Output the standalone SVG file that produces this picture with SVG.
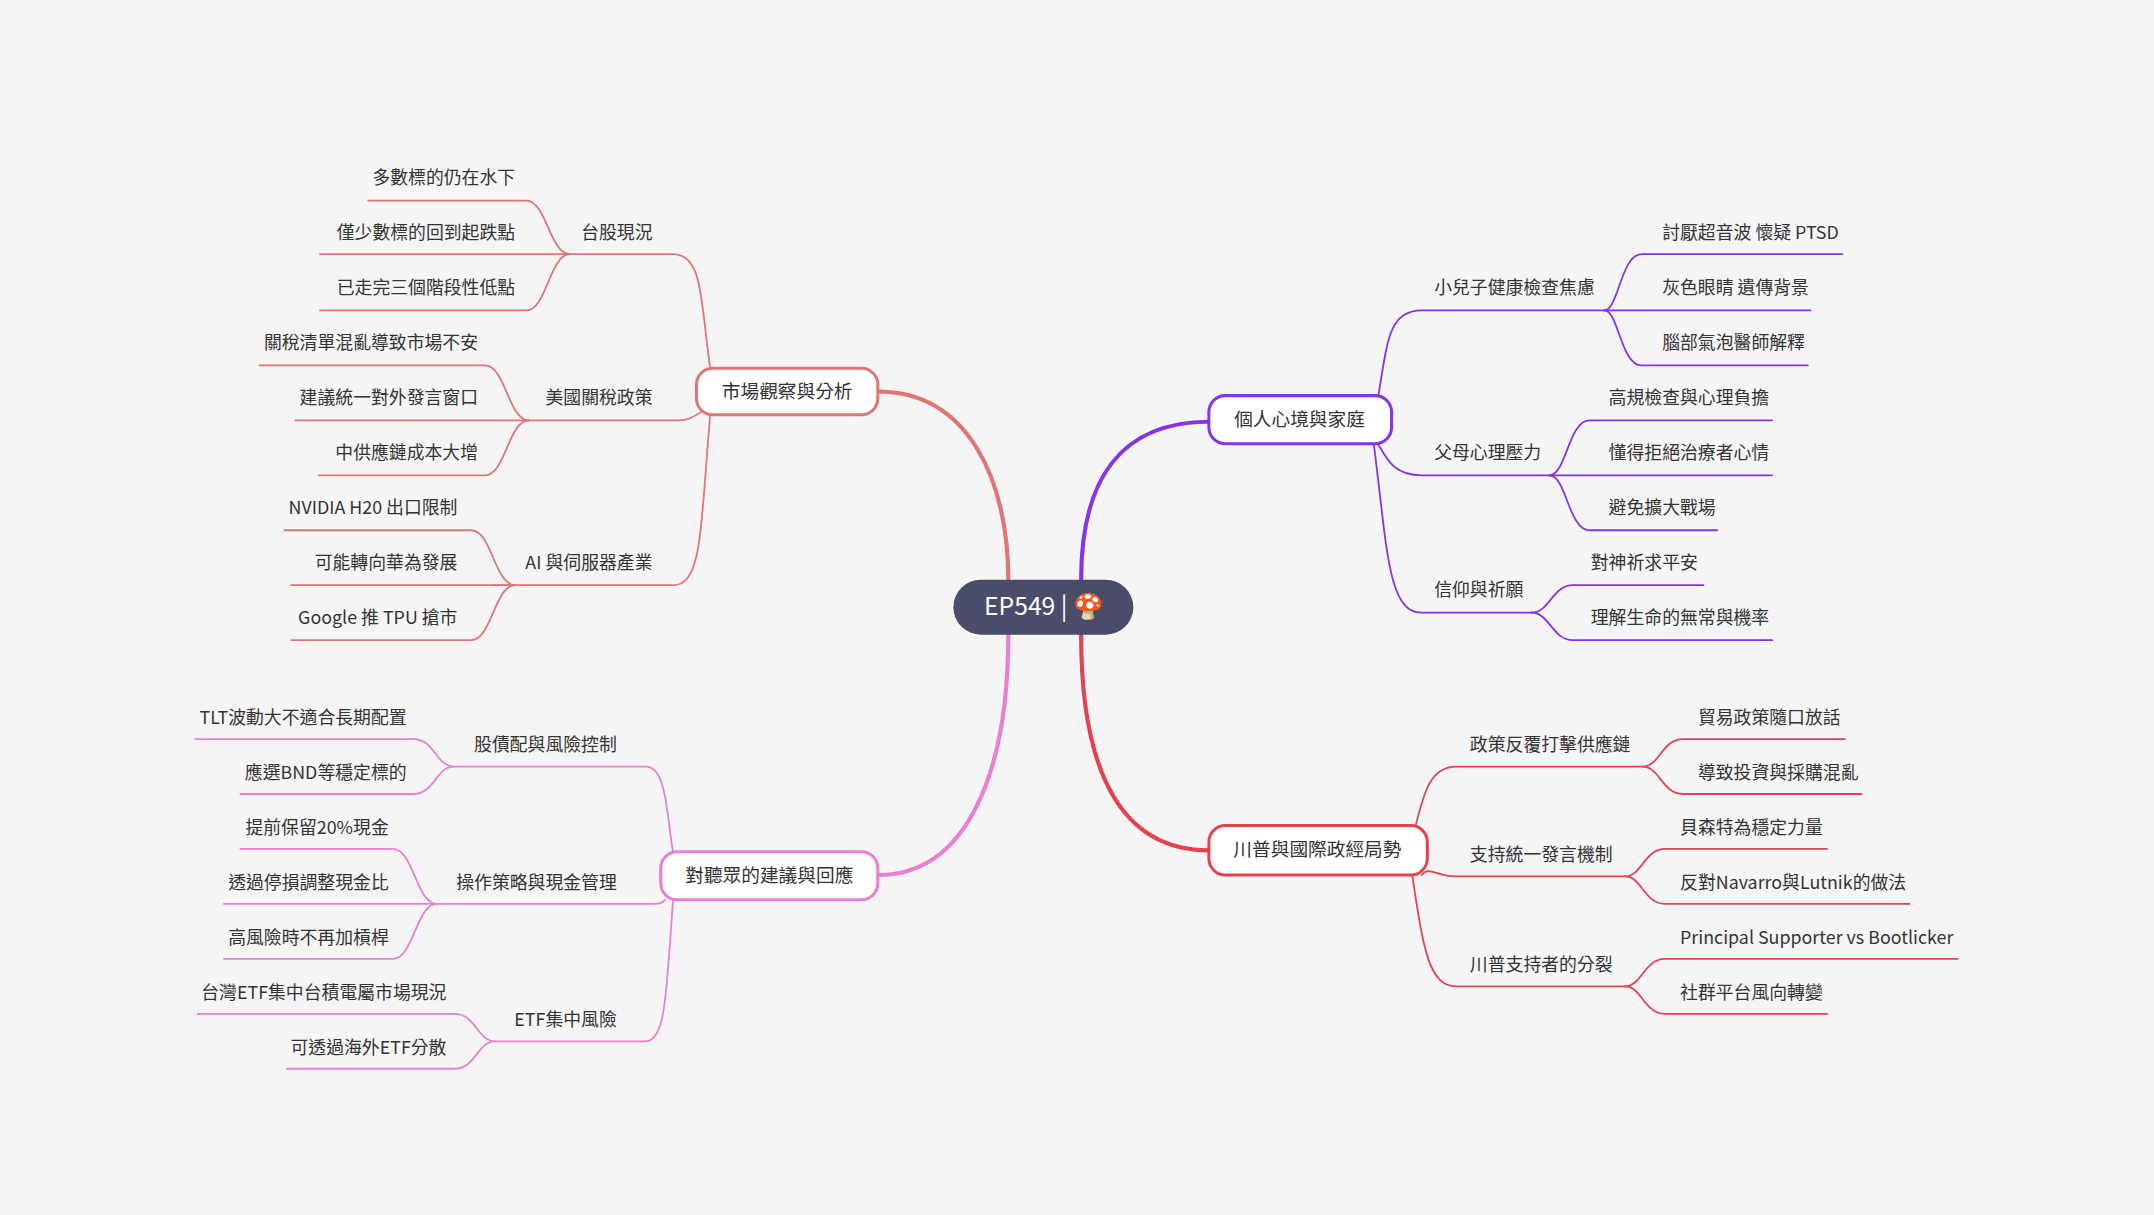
<svg xmlns="http://www.w3.org/2000/svg" width="2154" height="1215" viewBox="0 0 2154 1215">
<style>
text{font-family:"Noto Sans CJK TC","Noto Sans",sans-serif;font-size:13px;fill:#333}
.l{text-anchor:end}
.m{font-size:13.6px;text-anchor:middle}
.c{fill:none;stroke-linecap:round}
.p{stroke:#8533ec}.r{stroke:#e5414f}.s{stroke:#e07573}.k{stroke:#e97fd0}
.w{stroke-width:1.3}
.n{fill:#fff;stroke-width:2.2}
</style>
<rect width="2154" height="1215" fill="#f5f5f5"/>
<g transform="scale(1.37372)">
<g id="connectors">
<path class="c p" stroke-width="3" d="M787 422C787 350 815 307 880 307"/>
<path class="c r" stroke-width="3" d="M787 462C787 560 815 619 880 619"/>
<path class="c s" stroke-width="3" d="M734 422C734 350 705 285 639 285"/>
<path class="c k" stroke-width="3" d="M734 462C734 560 705 637 639 637"/>
<g class="c p w">
<path d="M1003 290C1010 250 1010 226 1035 226H1168"/>
<path d="M1003 323C1010 335 1015 346 1035 346H1128"/>
<path d="M1000 323C1010 400 1010 446 1035 446H1115"/>
<path d="M1168 226C1178 226 1180 185 1195 185H1341"/>
<path d="M1168 226H1318"/>
<path d="M1168 226C1178 226 1180 266 1195 266H1316"/>
<path d="M1128 346C1140 346 1142 306 1157 306H1290"/>
<path d="M1128 346H1290"/>
<path d="M1128 346C1140 346 1142 386 1157 386H1250"/>
<path d="M1115 446C1128 446 1130 426 1145 426H1240"/>
<path d="M1115 446C1128 446 1130 466 1145 466H1290"/>
</g>
<g class="c r w">
<path d="M1030 603C1036 580 1040 558 1060 558H1196"/>
<path d="M1035 637C1040 630 1045 638 1060 638H1183"/>
<path d="M1028 637C1036 690 1040 718 1060 718H1183"/>
<path d="M1196 558C1208 558 1210 538 1225 538H1343"/>
<path d="M1196 558C1208 558 1210 578 1225 578H1355"/>
<path d="M1183 638C1195 638 1197 618 1212 618H1330"/>
<path d="M1183 638C1195 638 1197 658 1212 658H1390"/>
<path d="M1183 718C1195 718 1197 698 1212 698H1425"/>
<path d="M1183 718C1195 718 1197 738 1212 738H1330"/>
</g>
<g class="c s w">
<path d="M517 268C510 220 512 185 490 185H415"/>
<path d="M510 300C503 305 500 306 490 306H385"/>
<path d="M517 302C510 380 512 426 490 426H360"/>
<path d="M415 185C400 185 398 146 383 146H268"/>
<path d="M415 185H233"/>
<path d="M415 185C400 185 398 226 383 226H233"/>
<path d="M385 306C370 306 368 266 353 266H189"/>
<path d="M385 306H215"/>
<path d="M385 306C370 306 368 346 353 346H232"/>
<path d="M375 426C360 426 358 386 343 386H207"/>
<path d="M375 426H212"/>
<path d="M375 426C360 426 358 466 343 466H212"/>
</g>
<g class="c k w">
<path d="M490 621C485 590 485 558 470 558H330"/>
<path d="M484 655C482 658 480 658 470 658H318"/>
<path d="M490 655C485 720 485 758 470 758H360"/>
<path d="M330 558C318 558 316 538 301 538H142"/>
<path d="M330 558C318 558 316 578 301 578H175"/>
<path d="M318 658C303 658 301 618 286 618H175"/>
<path d="M318 658H163"/>
<path d="M318 658C303 658 301 698 286 698H163"/>
<path d="M360 758C348 758 346 738 331 738H144"/>
<path d="M360 758C348 758 346 778 331 778H209"/>
</g>
</g>
<g id="center">
<rect x="694" y="422" width="131" height="40" rx="20" fill="#4a4d69"/>
<text x="760" y="448" class="m" style="font-size:18px;fill:#fff">EP549 | 🍄</text>
</g>
<g id="n1"><rect class="n p" x="880" y="288" width="133" height="35" rx="12"/><text x="946" y="310" class="m">個人心境與家庭</text></g>
<g id="n2"><rect class="n r" x="880" y="601" width="159" height="36" rx="12"/><text x="959" y="623" class="m">川普與國際政經局勢</text></g>
<g id="n3"><rect class="n s" x="507" y="268" width="132" height="34" rx="12"/><text x="573" y="290" class="m">市場觀察與分析</text></g>
<g id="n4"><rect class="n k" x="481" y="620" width="158" height="35" rx="12"/><text x="560" y="642" class="m">對聽眾的建議與回應</text></g>
<g id="sub">
<text x="1044" y="214">小兒子健康檢查焦慮</text>
<text x="1044" y="334">父母心理壓力</text>
<text x="1044" y="434">信仰與祈願</text>
<text x="1210" y="174">討厭超音波 懷疑 PTSD</text>
<text x="1210" y="214">灰色眼睛 遺傳背景</text>
<text x="1210" y="254">腦部氣泡醫師解釋</text>
<text x="1171" y="294">高規檢查與心理負擔</text>
<text x="1171" y="334">懂得拒絕治療者心情</text>
<text x="1171" y="374">避免擴大戰場</text>
<text x="1158" y="414">對神祈求平安</text>
<text x="1158" y="454">理解生命的無常與機率</text>
<text x="1070" y="547">政策反覆打擊供應鏈</text>
<text x="1070" y="627">支持統一發言機制</text>
<text x="1070" y="707">川普支持者的分裂</text>
<text x="1236" y="527">貿易政策隨口放話</text>
<text x="1236" y="567">導致投資與採購混亂</text>
<text x="1223" y="607">貝森特為穩定力量</text>
<text x="1223" y="647">反對Navarro與Lutnik的做法</text>
<text x="1223" y="687">Principal Supporter vs Bootlicker</text>
<text x="1223" y="727">社群平台風向轉變</text>
<text x="475" y="174" class="l">台股現況</text>
<text x="475" y="294" class="l">美國關稅政策</text>
<text x="475" y="414" class="l">AI 與伺服器產業</text>
<text x="375" y="134" class="l">多數標的仍在水下</text>
<text x="375" y="174" class="l">僅少數標的回到起跌點</text>
<text x="375" y="214" class="l">已走完三個階段性低點</text>
<text x="348" y="254" class="l">關稅清單混亂導致市場不安</text>
<text x="348" y="294" class="l">建議統一對外發言窗口</text>
<text x="348" y="334" class="l">中供應鏈成本大增</text>
<text x="333" y="374" class="l">NVIDIA H20 出口限制</text>
<text x="333" y="414" class="l">可能轉向華為發展</text>
<text x="333" y="454" class="l">Google 推 TPU 搶市</text>
<text x="449" y="547" class="l">股債配與風險控制</text>
<text x="449" y="647" class="l">操作策略與現金管理</text>
<text x="449" y="747" class="l">ETF集中風險</text>
<text x="296" y="527" class="l">TLT波動大不適合長期配置</text>
<text x="296" y="567" class="l">應選BND等穩定標的</text>
<text x="283" y="607" class="l">提前保留20%現金</text>
<text x="283" y="647" class="l">透過停損調整現金比</text>
<text x="283" y="687" class="l">高風險時不再加槓桿</text>
<text x="325" y="727" class="l">台灣ETF集中台積電屬市場現況</text>
<text x="325" y="767" class="l">可透過海外ETF分散</text>
</g>
</g>
</svg>
